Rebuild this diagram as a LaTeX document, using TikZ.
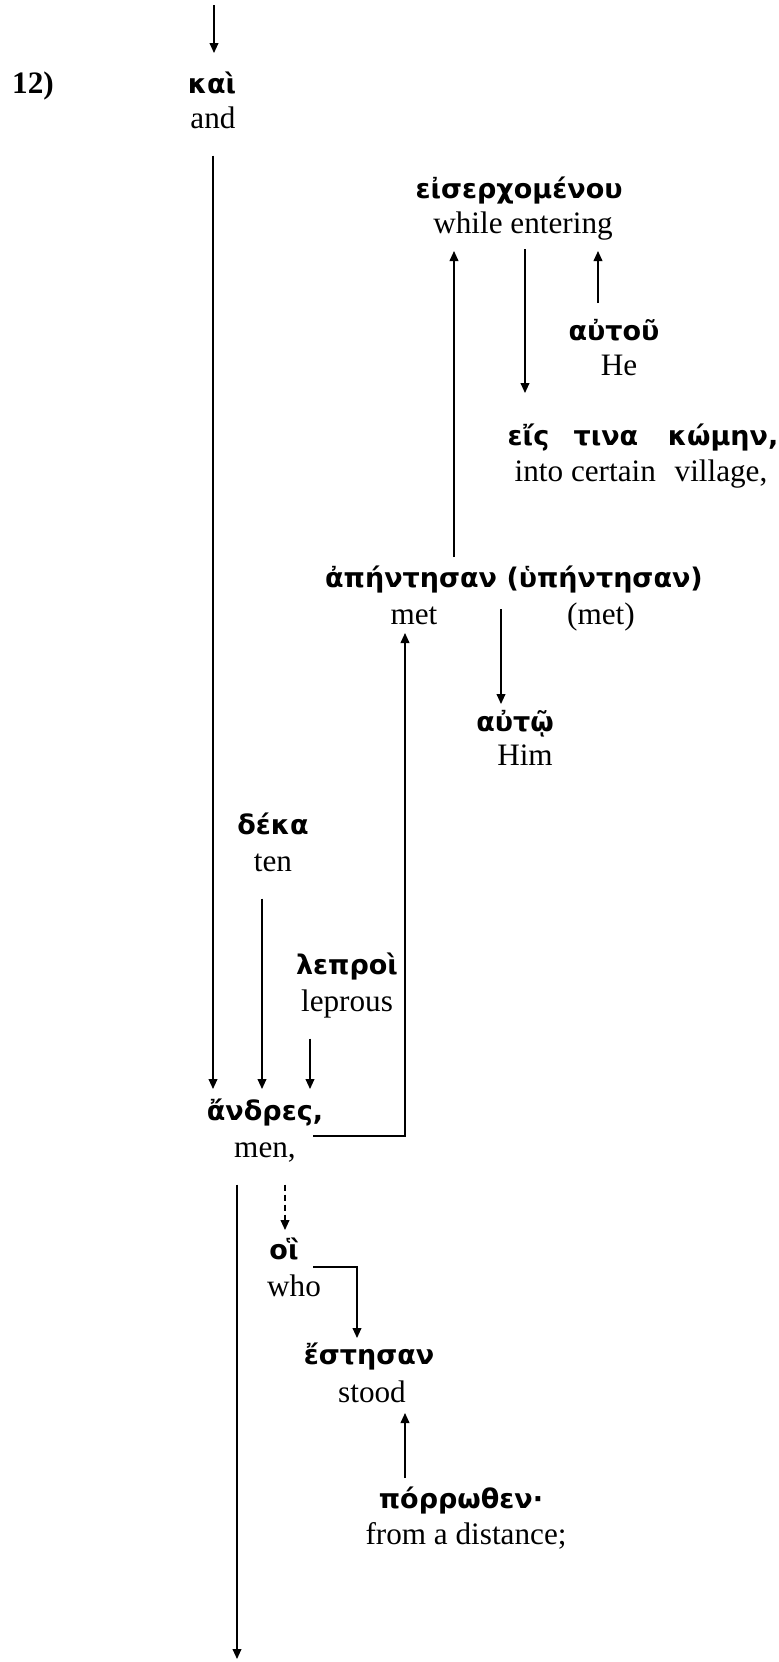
\documentclass[tikz,border=0pt]{standalone}
\usepackage{fontspec}
\setmainfont{Liberation Serif}
\newfontfamily\greekfont{DejaVu Sans}
\usepackage{tikz}
\usetikzlibrary{arrows.meta}
\newcommand{\gkfont}{\greekfont\bfseries\fontsize{13.5}{16}\selectfont}
\newcommand{\enfont}{\fontsize{15.6}{18}\selectfont}

\begin{document}
\begin{tikzpicture}[x=0.5pt,y=-0.5pt]
% Styles
\tikzset{
    gk/.style={font=\gkfont, inner sep=0pt, text height=10pt, text depth=3pt, outer xsep=2pt, outer ysep=10pt},
    en/.style={font=\enfont, inner sep=0pt, text height=11pt, text depth=3.5pt, outer xsep=2pt, outer ysep=10pt},
    arr/.style={line width=0.7pt, -{Triangle[length=5pt,width=4.4pt]}}
}
\useasboundingbox (0,0) rectangle (778,1662);
% Words
\node[en, font=\enfont\bfseries] (num) at (33,86) {12)};
\node[gk] (kai) at (212,86) {καὶ};
\node[en] (and) at (213,121) {and};
\node[gk] (eiserch) at (519,191) {εἰσερχομένου};
\node[en] (entering) at (523,226) {while entering};
\node[gk] (autou) at (614,333) {αὐτοῦ};
\node[en] (he) at (619,368) {He};
\node[gk] (eis) at (643,438) {εἴς\hspace{0.9em}τινα\hspace{1.1em}κώμην,};
\node[en] (into) at (641,474) {into certain\hspace{0.6em}village,};
\node[gk] (apant) at (514,580) {ἀπήντησαν (ὑπήντησαν)};
\node[en] (met) at (414,617) {met};
\node[en] (metb) at (601,617) {(met)};
\node[gk] (auto) at (515,724) {αὐτῷ};
\node[en] (him) at (525,758) {Him};
\node[gk] (deka) at (273,827) {δέκα};
\node[en] (ten) at (273,864) {ten};
\node[gk] (lepr) at (347,967) {λεπροὶ};
\node[en] (leprous) at (347,1004) {leprous};
\node[gk] (andres) at (265,1113) {ἄνδρες,};
\node[en] (men) at (265,1150) {men,};
\node[gk] (hoi) at (284,1252) {οἳ};
\node[en] (who) at (294,1289) {who};
\node[gk] (estesan) at (369,1357) {ἔστησαν};
\node[en] (stood) at (372,1395) {stood};
\node[gk] (porr) at (461,1501) {πόρρωθεν·};
\node[en] (dist) at (466,1537) {from a distance;};
\coordinate (top) at (214,5);
\coordinate (bottom) at (237,1659);
% Connection
\draw[arr] (top) -- (top |- kai.north);
\draw[arr, shorten >=-4.5pt] (and.south) -- (and.south |- andres.north);
\draw[arr, shorten <=-5pt, shorten >=-4.75pt] ([xshift=-30pt]apant.north) -- ([xshift=-30pt]apant.north |- entering.south);
\draw[arr, shorten <=-5.75pt, shorten >=6pt] ([xshift=1pt]entering.south) -- ([xshift=1pt]entering.south |- eis.north);
\draw[arr, shorten <=-1.5pt, shorten >=-4.75pt] ([xshift=-8pt]autou.north) -- ([xshift=-8pt]autou.north |- entering.south);
\draw[arr, shorten <=-2pt, shorten >=-6.5pt] ([xshift=-6.5pt]apant.south) -- ([xshift=-6.5pt]apant.south |- auto.north);
\draw[arr, shorten >=-4.5pt] ([xshift=-5.5pt]ten.south) -- ([xshift=-5.5pt]ten.south |- andres.north);
\draw[arr, shorten >=-4.5pt] ([xshift=-18.5pt]leprous.south) -- ([xshift=-18.5pt]leprous.south |- andres.north);
\draw[arr, shorten >=-9.25pt] ([shift={(24pt,-11.5pt)}]andres.center) -| ([xshift=-4.5pt]met.south);
\draw[arr] ([xshift=-14pt]men.south) -- (bottom);
\draw[arr, dash pattern=on 3pt off 2pt, shorten >=-5.5pt] ([xshift=10pt]men.south) -- ([xshift=10pt]men.south |- hoi.north);
\draw[arr, shorten >=-7pt] ([shift={(14.5pt,-7.5pt)}]hoi.center) -| ([xshift=-6pt]estesan.north);
\draw[arr, shorten <=-5pt, shorten >=-8.25pt] ([xshift=-28pt]porr.north) -- ([xshift=-28pt]porr.north |- stood.south);
\end{tikzpicture}
\end{document}
